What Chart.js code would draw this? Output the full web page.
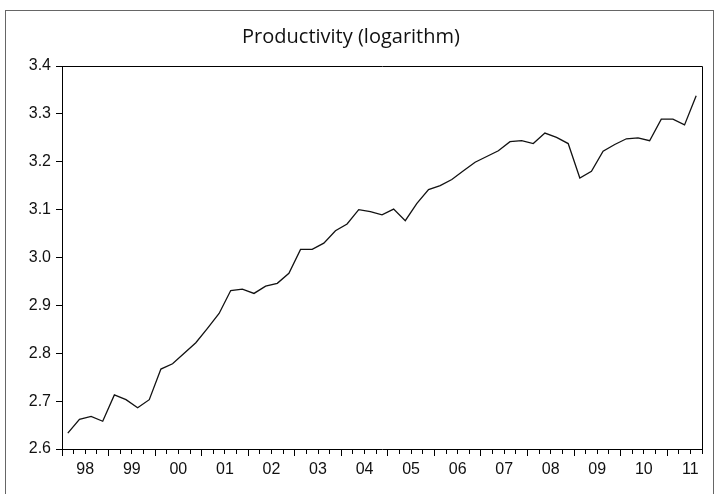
<!DOCTYPE html>
<html>
<head>
<meta charset="utf-8">
<script src="https://cdn.jsdelivr.net/npm/chart.js@4/dist/chart.umd.min.js"></script>
<style>
    body { margin: 0; background: #fff; }
    #wrap { position: relative; width: 715px; height: 494px; overflow: hidden; }
    #frame { position: absolute; left: 5px; top: 10px; width: 707px; height: 500px; border: 1px solid #666; border-bottom: none; }
    #chart { position: absolute; left: 0; top: 0; }
</style>
</head>
<body>
<div id="wrap">
    <div id="frame"></div>
    <canvas id="chart" width="715" height="494"></canvas>
</div>
<script>
// quarterly, 1998Q1 .. 2011Q3
const years = ["98", "99", "00", "01", "02", "03", "04", "05", "06", "07", "08", "09", "10", "11"];
const quartersPerYear = 4;

const productivity = [
    2.633, 2.662, 2.668, 2.658,
    2.713, 2.703, 2.686, 2.703,
    2.767, 2.778, 2.800, 2.822,
    2.852, 2.883, 2.931, 2.934,
    2.925, 2.940, 2.946, 2.967,
    3.017, 3.017, 3.030, 3.056,
    3.070, 3.100, 3.096, 3.089,
    3.101, 3.077, 3.113, 3.142,
    3.150, 3.163, 3.181, 3.199,
    3.211, 3.223, 3.242, 3.244,
    3.238, 3.260, 3.251, 3.238,
    3.166, 3.180, 3.222, 3.236,
    3.248, 3.250, 3.244, 3.289,
    3.289, 3.277, 3.338
];

const yTicks = { min: 2.6, max: 3.4, step: 0.1 };

// each quarter is plotted in the middle of its slot
const points = productivity.map((v, i) => ({ x: i + 0.5, y: v }));
const nSlots = productivity.length;

const plotBox = {
    id: "plotBox",
    afterDraw(chart) {
        const { ctx, chartArea } = chart;
        ctx.save();
        ctx.strokeStyle = "#000";
        ctx.lineWidth = 1;
        ctx.beginPath();
        ctx.moveTo(Math.round(chartArea.left) + 0.5, Math.round(chartArea.top) + 0.5);
        ctx.lineTo(Math.round(chartArea.right) + 0.5, Math.round(chartArea.top) + 0.5);
        ctx.lineTo(Math.round(chartArea.right) + 0.5, Math.round(chartArea.bottom) + 0.5);
        ctx.stroke();
        ctx.restore();
    }
};

new Chart(document.getElementById("chart"), {
    type: "line",
    data: {
        datasets: [{
            data: points,
            borderColor: "#111",
            borderWidth: 1.3,
            pointRadius: 0,
            tension: 0,
            fill: false
        }]
    },
    options: {
        responsive: false,
        devicePixelRatio: 1,
        animation: false,
        layout: { padding: { left: 0, right: 13, top: 0, bottom: 0 } },
        plugins: {
            legend: { display: false },
            tooltip: { enabled: false },
            title: {
                display: true,
                text: "Productivity (logarithm)",
                color: "#111",
                font: { family: "'Open Sans', sans-serif", size: 20, weight: "normal" },
                padding: { top: 25, bottom: 17 }
            }
        },
        scales: {
            x: {
                type: "linear",
                min: 0,
                max: nSlots,
                afterFit: (scale) => { scale.height = 45; },
                border: { color: "#000", width: 1 },
                grid: {
                    drawOnChartArea: false,
                    color: "#000",
                    tickLength: 7,
                    // long tick at each year, short one at each quarter
                    tickBorderDash: (ctx) => (ctx.tick && ctx.tick.value % quartersPerYear === 0) ? [] : [4, 40]
                },
                ticks: {
                    stepSize: 1,
                    autoSkip: false,
                    maxRotation: 0,
                    padding: 4,
                    color: "#111",
                    font: { family: "'Liberation Sans', Arial, sans-serif", size: 16 },
                    callback: (value) => value % quartersPerYear === 2 ? years[(value - 2) / quartersPerYear] : ""
                }
            },
            y: {
                min: yTicks.min,
                max: yTicks.max,
                afterFit: (scale) => { scale.width = 62; },
                border: { color: "#000", width: 1 },
                grid: { drawOnChartArea: false, color: "#000", tickLength: 6 },
                ticks: {
                    stepSize: yTicks.step,
                    padding: 5,
                    color: "#111",
                    font: { family: "'Liberation Sans', Arial, sans-serif", size: 16 },
                    callback: (value) => value.toFixed(1)
                }
            }
        }
    },
    plugins: [plotBox]
});
</script>
</body>
</html>
